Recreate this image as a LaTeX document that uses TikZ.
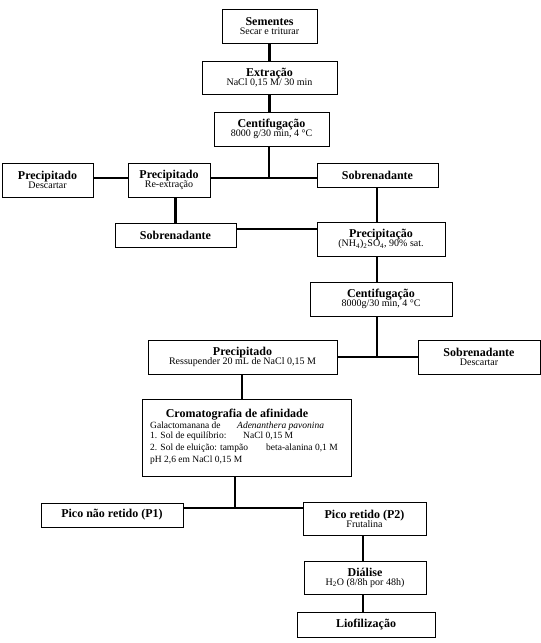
\documentclass[tikz,border=0pt]{standalone}
\usepackage{fontspec}
\setmainfont{Liberation Serif}
\newcommand\ttl[1]{{\fontsize{12}{13}\selectfont\bfseries #1}}
\newcommand\sbt[1]{{\fontsize{10}{11}\selectfont #1}}
\newcommand\bxnode[6]{\node[box, minimum width={#4pt-#2pt}, minimum height={#5pt-#3pt}] (#1) at ({(#2+#4)/2},{(#3+#5)/2}) {#6};}
\tikzset{
  box/.style={draw=black, line width=0.8pt, fill=white, inner sep=0pt, align=center, font=\fontsize{10}{11}\selectfont},
  conn/.style={draw=black, line width=2.4pt},
  ctext/.style={anchor=base west, inner sep=0pt, font=\fontsize{9.5}{10}\selectfont}
}
\begin{document}
\begin{tikzpicture}[x={(1pt,0)}, y={(0,-1pt)}]
\useasboundingbox (0,0) rectangle (541,643);
\coordinate (j1) at (269,178);
\coordinate (j2) at (377,357);
\coordinate (j3) at (235,508);
\coordinate (ja) at (0,229);
% boxes
\bxnode{sem}{222}{9}{317}{43}{\ttl{Sementes}\\[-2pt]\sbt{Secar e triturar}}
\bxnode{ext}{202}{61}{337}{94}{\ttl{Extração}\\[-2pt]\sbt{NaCl 0,15 M/ 30 min}}
\bxnode{cen1}{214}{112}{329}{146}{\ttl{Centifugação}\\[-2pt]\sbt{8000 g/30 min, 4 °C}}
\bxnode{pdesc}{2}{163}{93}{197}{\ttl{Precipitado}\\[-2pt]\sbt{Descartar}}
\bxnode{prex}{128}{163}{210}{197}{\ttl{Precipitado}\\[-2pt]\sbt{Re-extração}}
\bxnode{sobR}{317}{163}{438}{187}{\ttl{Sobrenadante}}
\bxnode{sobL}{115}{223}{236}{247}{\ttl{Sobrenadante}}
\bxnode{ppt}{317}{222}{445}{256}{\ttl{Precipitação}\\[-2pt]\sbt{(NH\textsubscript{4})\textsubscript{2}SO\textsubscript{4}, 90\% sat.}}
\bxnode{cen2}{310}{282}{452}{316}{\ttl{Centifugação}\\[-2pt]\sbt{8000g/30 min, 4 °C}}
\bxnode{pres}{148}{340}{337}{374}{\ttl{Precipitado}\\[-2pt]\sbt{Ressupender 20 mL de NaCl 0,15 M}}
\bxnode{sobD}{418}{340}{540}{374}{\ttl{Sobrenadante}\\[-2pt]\sbt{Descartar}}
\bxnode{crom}{142}{399}{351}{476}{}
\bxnode{p1}{41}{503}{183}{527}{\ttl{Pico não retido (P1)}}
\bxnode{p2}{303}{502}{426}{535}{\ttl{Pico retido (P2)}\\[-2pt]\sbt{Frutalina}}
\bxnode{dia}{304}{561}{426}{594}{\ttl{Diálise}\\[-2pt]\sbt{H\textsubscript{2}O (8/8h por 48h)}}
\bxnode{lio}{297}{612}{435}{637}{\ttl{Liofilização}}
% chromatography text
\node[anchor=base, inner sep=0pt] (ct) at (237,417) {\ttl{Cromatografia de afinidade}};
\node[ctext] (c1) at (150,428) {Galactomanana de};
\node[ctext] (c1b) at (237,428) {\itshape Adenanthera pavonina};
\node[ctext] (c2) at (150,438) {1. Sol de equilíbrio:};
\node[ctext] (c2b) at (243,438) {NaCl 0,15 M};
\node[ctext] (c3) at (150,450) {2. Sol de eluição: tampão};
\node[ctext] (c3b) at (266,450) {beta-alanina 0,1 M};
\node[ctext] (c4) at (150,462) {pH 2,6 em NaCl 0,15 M};
% connectors
\draw[conn] (sem.south) -- (ext.north);
\draw[conn] (ext.south) -- (ext.south |- cen1.north);
\draw[conn] (cen1.south -| j1) -- (j1);
\draw[conn] (pdesc.east |- j1) -- (prex.west |- j1);
\draw[conn] (prex.east |- j1) -- (sobR.west |- j1);
\draw[conn] (sobL.north) -- (sobL.north |- prex.south);
\draw[conn] (sobL.east |- ja) -- (ppt.west |- ja);
\draw[conn] (sobR.south -| j2) -- (ppt.north -| j2);
\draw[conn] (ppt.south -| j2) -- (cen2.north -| j2);
\draw[conn] (cen2.south -| j2) -- (j2);
\draw[conn] (pres.east) -- (sobD.west);
\draw[conn] (pres.south -| 242,0) -- (crom.north -| 242,0);
\draw[conn] (crom.south -| j3) -- (j3);
\draw[conn] (p1.east |- j3) -- (p2.west |- j3);
\draw[conn] (p2.south -| 363,0) -- (dia.north -| 363,0);
\draw[conn] (dia.south -| 363,0) -- (lio.north -| 363,0);
\end{tikzpicture}
\end{document}
